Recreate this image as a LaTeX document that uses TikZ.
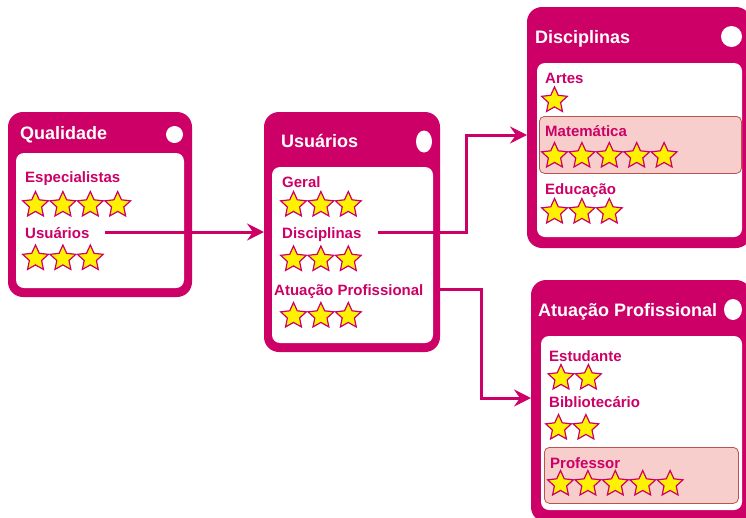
\documentclass[tikz,border=0pt]{standalone}
\usepackage{fontspec}
\setmainfont{Liberation Sans}
\usetikzlibrary{shapes.geometric,arrows.meta,positioning}
\definecolor{rose}{HTML}{CC0066}
\definecolor{hlfill}{HTML}{F8CECC}
\definecolor{hldraw}{HTML}{B85450}
%% a row of #4 stars, first centre at (#2,#3)
\newcommand\starrow[4]{\foreach \i in {1,...,#4} \node[starn] (#1-\i) at ({#2+27.4*(\i-1)},#3) {};}
\begin{document}
\begin{tikzpicture}[x=1pt,y=-1pt,
    panel/.style={anchor=north west,fill=rose,rounded corners=15pt,inner sep=0pt,outer sep=0pt},
    body/.style={anchor=north west,fill=white,rounded corners=8pt,inner sep=0pt,outer sep=0pt},
    hl/.style={anchor=north west,fill=hlfill,draw=hldraw,line width=0.8pt,rounded corners=5pt,inner sep=0pt},
    dot/.style={ellipse,fill=white,inner sep=0pt},
    title/.style={anchor=base west,inner sep=0pt,text=white,font=\fontsize{18}{20}\selectfont\bfseries},
    lbl/.style={anchor=base west,inner sep=0pt,text=rose,text height=12pt,text depth=0pt,font=\fontsize{15}{18}\selectfont\bfseries},
    starn/.style={star,star points=5,star point ratio=2.1,minimum size=27pt,inner sep=0pt,fill=yellow,draw=rose,line width=1.2pt},
    flow/.style={draw=rose,line width=3pt,-{Stealth[length=17pt,width=17pt,inset=6pt]}}]
  \path[use as bounding box,fill=white] (0,0) rectangle (746,517);%

  %% panels
  \node[panel,minimum width=184pt,minimum height=185pt] (qua) at (8,112) {};%
  \node[body,minimum width=168pt,minimum height=135pt] (qua-b) at (16,153) {};%
  \node[panel,minimum width=176pt,minimum height=240pt] (usu) at (264,112) {};%
  \node[body,minimum width=161pt,minimum height=176pt] (usu-b) at (272,167) {};%
  \node[panel,minimum width=224pt,minimum height=241pt] (dis) at (527,7) {};%
  \node[body,minimum width=205pt,minimum height=174pt] (dis-b) at (537,63) {};%
  \node[panel,minimum width=220pt,minimum height=242pt] (atu) at (531,280) {};%
  \node[body,minimum width=201pt,minimum height=174pt] (atu-b) at (541,336) {};%
  \node[hl,minimum width=202pt,minimum height=57pt] (mat) at (539,116) {};%
  \node[hl,minimum width=194pt,minimum height=56pt] (pro) at (544,447) {};%

  %% titles
  \node[title] (t-qua) at (20,139.5) {Qualidade};%
  \node[dot,minimum width=17pt,minimum height=17pt] (o-qua) at (174.5,134.5) {};%
  \node[title] (t-usu) at (281,147) {Usuários};%
  \node[dot,minimum width=16pt,minimum height=22pt] (o-usu) at (424,141.5) {};%
  \node[title] (t-dis) at (535,43) {Disciplinas};%
  \node[dot,minimum width=21pt,minimum height=21pt] (o-dis) at (731.5,36.5) {};%
  \node[title] (t-atu) at (538,316) {Atuação Profissional};%
  \node[dot,minimum width=18pt,minimum height=21pt] (o-atu) at (733,309.5) {};%

  %% entries
  \node[lbl] (q-esp) at (25,182) {Especialistas}; \starrow{s-qe}{35.5}{205}{4}%
  \node[lbl] (q-usu) at (25,238) {Usuários}; \starrow{s-qu}{35.5}{258.5}{3}%
  \node[lbl] (u-ger) at (282,187) {Geral}; \starrow{s-ug}{293.5}{205}{3}%
  \node[lbl] (u-dis) at (282,238) {Disciplinas}; \starrow{s-ud}{293.5}{259.5}{3}%
  \node[lbl] (u-atu) at (274,295) {Atuação Profissional}; \starrow{s-ua}{293.5}{316}{3}%
  \node[lbl] (d-art) at (545,83) {Artes}; \starrow{s-da}{554.5}{100.5}{1}%
  \node[lbl] (d-mat) at (545,136) {Matemática}; \starrow{s-dm}{554.5}{156}{5}%
  \node[lbl] (d-edu) at (545,194) {Educação}; \starrow{s-de}{554.5}{212}{3}%
  \node[lbl] (a-est) at (549,361) {Estudante}; \starrow{s-ae}{561}{378}{2}%
  \node[lbl] (a-bib) at (549,407) {Bibliotecário}; \starrow{s-ab}{558.5}{428}{2}%
  \node[lbl] (a-pro) at (550,468) {Professor}; \starrow{s-ap}{560.5}{484}{5}%

  %% links
  \coordinate (k-dis) at (466,135);%
  \coordinate (k-atu) at (481,398);%
  \draw[flow] ([xshift=15pt]q-usu.east) -- (q-usu.east -| usu.west);%
  \draw[flow] ([xshift=16pt]u-dis.east) -| (k-dis) -- (k-dis -| dis.west);%
  \draw[flow] ([xshift=15pt]u-atu.east) -| (k-atu) -- (k-atu -| atu.west);%
\end{tikzpicture}
\end{document}
